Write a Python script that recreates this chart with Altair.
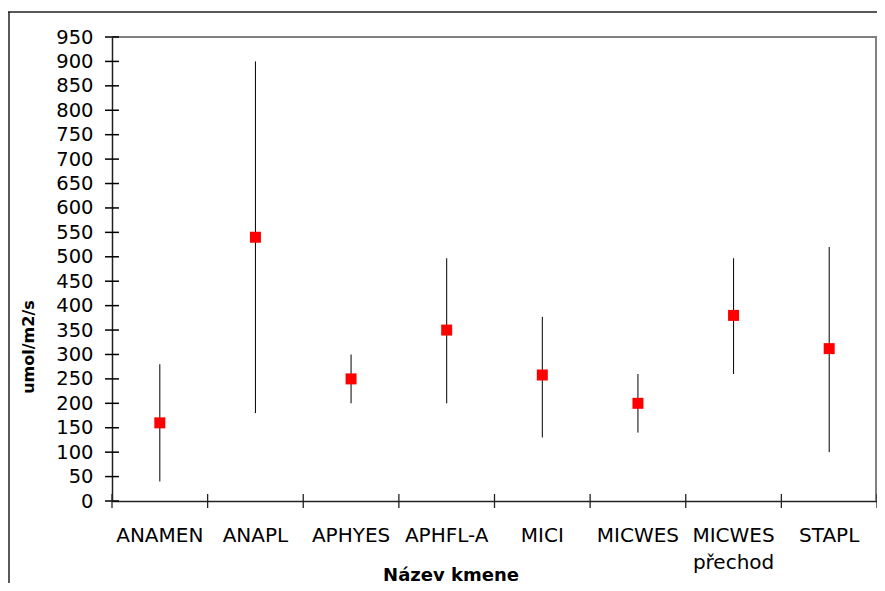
import altair as alt
import pandas as pd

categories = ["ANAMEN", "ANAPL", "APHYES", "APHFL-A", "MICI", "MICWES", "MICWES přechod", "STAPL"]
means = [160, 540, 250, 350, 258, 200, 380, 312]
lows = [40, 180, 200, 200, 130, 140, 260, 100]
highs = [280, 900, 300, 497, 377, 260, 497, 520]
y_ticks = list(range(0, 951, 50))

df = pd.DataFrame({"cat": categories, "mean": means, "low": lows, "high": highs})
ticks_df = pd.DataFrame({"v": y_ticks})
cats_df = pd.DataFrame({"cat": categories})
last_df = pd.DataFrame({"cat": categories[-1:]})
one_df = pd.DataFrame({"k": [1]})

W, H = 765, 464
FONT = "DejaVu Sans"

xscale = alt.Scale(domain=categories, paddingInner=0, paddingOuter=0)
yscale = alt.Scale(domain=[0, 950], nice=False, zero=True)

x_axis = alt.Axis(
    title="Název kmene",
    labelExpr="split(datum.label, ' ')",
    labelAngle=0,
    labelFont=FONT, labelFontSize=20, labelColor="black",
    labelBaseline="alphabetic", labelPadding=40, labelLineHeight=27,
    labelOverlap=False,
    ticks=False, domainColor="#222222", domainWidth=1.5,
    titleFont=FONT, titleFontSize=18, titleFontWeight="bold", titleColor="black",
    titleX=338.5, titleY=79, titleAnchor="start", titleAlign="center",
    titleBaseline="alphabetic",
)
y_axis = alt.Axis(
    title="umol/m2/s",
    values=y_ticks,
    labelFont=FONT, labelFontSize=19.5, labelColor="black",
    labelPadding=19, labelBaseline="middle", labelOverlap=False,
    ticks=False, grid=False, domainColor="#222222", domainWidth=1.5,
    titleFont=FONT, titleFontSize=16, titleFontWeight="bold", titleColor="black",
    titleAngle=270, titleX=-79, titleY=309.5, titleAlign="center",
    titleBaseline="alphabetic",
)

base = alt.Chart(df)

plot_top = alt.Chart(one_df).mark_rule(color="#808080", strokeWidth=2).encode(
    y=alt.datum(950, scale=yscale, axis=y_axis),
    x=alt.value(0), x2=alt.value(W),
)
plot_right = alt.Chart(one_df).mark_rule(color="#808080", strokeWidth=2).encode(
    y=alt.datum(950, scale=yscale, axis=y_axis),
    y2=alt.datum(0),
    x=alt.value(W - 1),
)

bars = base.mark_rule(color="black", strokeWidth=1).encode(
    x=alt.X("cat:N", scale=xscale, sort=categories, axis=x_axis),
    y=alt.Y("low:Q", scale=yscale, axis=y_axis),
    y2="high:Q",
)

points = base.mark_square(size=121, color="#FF0000", opacity=1, filled=True).encode(
    x=alt.X("cat:N", scale=xscale, sort=categories, axis=x_axis),
    y=alt.Y("mean:Q", scale=yscale, axis=y_axis),
)

ytick_marks = alt.Chart(ticks_df).mark_rule(color="black", strokeWidth=1.5).encode(
    y=alt.Y("v:Q", scale=yscale, axis=y_axis),
    x=alt.value(-7), x2=alt.value(7),
)

xtick_marks = alt.Chart(cats_df).mark_rule(color="#222222", strokeWidth=1.3).encode(
    x=alt.X("cat:N", scale=xscale, sort=categories, bandPosition=0, axis=x_axis),
    y=alt.value(H - 7), y2=alt.value(H + 7),
)

xtick_last = alt.Chart(last_df).mark_rule(color="#222222", strokeWidth=1.3).encode(
    x=alt.X("cat:N", scale=xscale, sort=categories, bandPosition=1, axis=x_axis),
    y=alt.value(H - 7), y2=alt.value(H + 7),
)

frame_left = alt.Chart(last_df).mark_rule(color="#222222", strokeWidth=1.5).encode(
    x=alt.value(-103), y=alt.value(-25), y2=alt.value(H + 120),
)
frame_top = alt.Chart(last_df).mark_rule(color="#222222", strokeWidth=1.5).encode(
    x=alt.value(-104), x2=alt.value(W + 40), y=alt.value(-25),
)

chart = alt.layer(
    plot_top, plot_right, bars, points, ytick_marks, xtick_marks, xtick_last,
    frame_left, frame_top
).properties(
    width=W, height=H,
    padding={"left": 104, "top": 29, "right": 0, "bottom": 82},
    autosize=alt.AutoSizeParams(type="none"),
).configure_view(
    stroke="#808080", strokeWidth=2,
).configure(background="white")

chart.save("out.html", embed_options={"renderer": "svg", "actions": False})
